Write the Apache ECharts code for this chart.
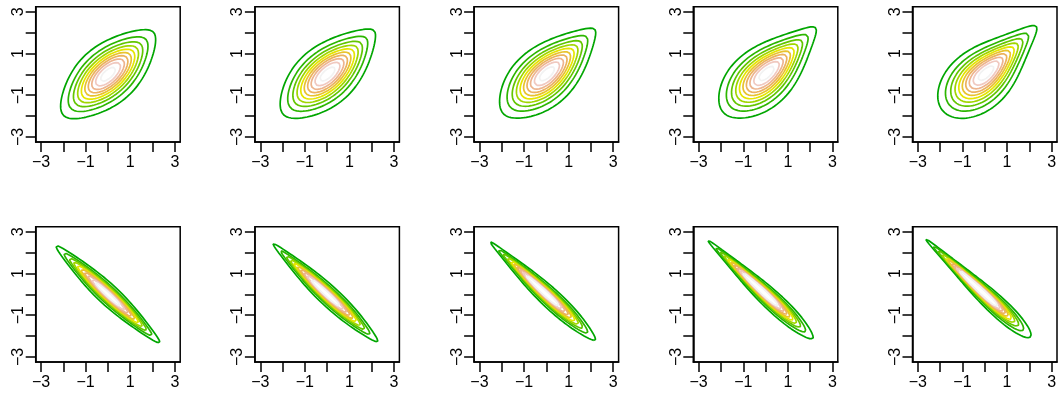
<!DOCTYPE html>
<html>
<head>
<meta charset="utf-8">
<script src="https://cdn.jsdelivr.net/npm/echarts@6/dist/echarts.min.js"></script>
<style>
  html, body { margin: 0; padding: 0; background: #ffffff; }
  #chart { width: 1064px; height: 394px; }
</style>
</head>
<body>
<div id="chart"></div>
<script>
// ---- axis ticks and labels ----
const tickValues = [-3, -2, -1, 0, 1, 2, 3];
const labelValues = [-3, -1, 1, 3];
const axisRange = [-3.24, 3.24];

// ---- model of each panel: N(0,1) margins, a mixture of the Student t
//      copula (rho, nu) and the Gumbel copula (theta); weight = Gumbel share ----
const topRho = [0.6, 0.6, 0.6, 0.6, 0.6];
const topNu = [8, 8, 8, 8, 8];
const topTheta = [1.7, 1.7, 1.7, 1.7, 1.7];
const topWeight = [0.1, 0.3, 0.5, 0.75, 1.0];
const bottomRho = [-0.95, -0.95, -0.95, -0.95, -0.95];
const bottomNu = [4, 4, 4, 4, 4];
const bottomTheta = [6.0, 6.0, 6.0, 6.0, 6.0];
const bottomWeight = [0.0, 0.25, 0.5, 0.75, 1.0];

// ---- contour levels of the joint density ----
const topLevels = [0.02, 0.04, 0.06, 0.08, 0.10, 0.12, 0.14, 0.16, 0.18, 0.20];
const bottomLevels = [0.05, 0.10, 0.15, 0.20, 0.25, 0.30, 0.35, 0.40, 0.45, 0.50];

// ---------------------------------------------------------------
function erfc(x) {
  const z = Math.abs(x), t = 1 / (1 + 0.5 * z);
  const r = t * Math.exp(-z * z - 1.26551223 + t * (1.00002368 + t * (0.37409196 + t * (0.09678418 +
    t * (-0.18628806 + t * (0.27886807 + t * (-1.13520398 + t * (1.48851587 +
    t * (-0.82215223 + t * 0.17087277)))))))));
  return x >= 0 ? r : 2 - r;
}
const lowerTail = x => 0.5 * erfc(-x / Math.SQRT2); // Phi(x)
// -ln(Phi(x))
function negLogPhi(x) {
  if (x >= 0) return -Math.log1p(-lowerTail(-x));
  return -Math.log(lowerTail(x));
}
function dnorm(x) { return Math.exp(-0.5 * x * x) / Math.sqrt(2 * Math.PI); }

function gammaln(x) {
  const c = [76.18009172947146, -86.50532032941677, 24.01409824083091,
    -1.231739572450155, 0.1208650973866179e-2, -0.5395239384953e-5];
  let y = x, tmp = x + 5.5;
  tmp -= (x + 0.5) * Math.log(tmp);
  let ser = 1.000000000190015;
  for (let j = 0; j < 6; j++) ser += c[j] / ++y;
  return -tmp + Math.log(2.5066282746310005 * ser / x);
}
function betacf(a, b, x) {
  const FPMIN = 1e-300;
  let qab = a + b, qap = a + 1, qam = a - 1, c = 1, d = 1 - qab * x / qap;
  if (Math.abs(d) < FPMIN) d = FPMIN;
  d = 1 / d;
  let h = d;
  for (let m = 1; m <= 300; m++) {
    const m2 = 2 * m;
    let aa = m * (b - m) * x / ((qam + m2) * (a + m2));
    d = 1 + aa * d; if (Math.abs(d) < FPMIN) d = FPMIN;
    c = 1 + aa / c; if (Math.abs(c) < FPMIN) c = FPMIN;
    d = 1 / d; h *= d * c;
    aa = -(a + m) * (qab + m) * x / ((a + m2) * (qap + m2));
    d = 1 + aa * d; if (Math.abs(d) < FPMIN) d = FPMIN;
    c = 1 + aa / c; if (Math.abs(c) < FPMIN) c = FPMIN;
    d = 1 / d;
    const del = d * c;
    h *= del;
    if (Math.abs(del - 1) < 1e-14) break;
  }
  return h;
}
function ibeta(x, a, b) {
  if (x <= 0) return 0;
  if (x >= 1) return 1;
  const bt = Math.exp(gammaln(a + b) - gammaln(a) - gammaln(b) + a * Math.log(x) + b * Math.log(1 - x));
  if (x < (a + 1) / (a + b + 2)) return bt * betacf(a, b, x) / a;
  return 1 - bt * betacf(b, a, 1 - x) / b;
}
// Student t: lower tail for t <= 0 and its inverse
function ptNeg(t, nu) { return 0.5 * ibeta(nu / (nu + t * t), nu / 2, 0.5); }
function qtNeg(p, nu) {
  let lo = -500, hi = 0;
  for (let k = 0; k < 80; k++) {
    const mid = 0.5 * (lo + hi);
    if (ptNeg(mid, nu) < p) lo = mid; else hi = mid;
  }
  return 0.5 * (lo + hi);
}
// t quantile of Phi(x)
function tScore(x, nu) {
  return x <= 0 ? qtNeg(lowerTail(x), nu) : -qtNeg(lowerTail(-x), nu);
}

// log Gumbel copula density written in t = -ln(u), s = -ln(v)
function logGumbel(t1, t2, theta) {
  const l1 = Math.log(t1), l2 = Math.log(t2), m = Math.max(l1, l2);
  const lnA = m + Math.log(Math.exp(theta * (l1 - m)) + Math.exp(theta * (l2 - m))) / theta;
  const A = Math.exp(lnA);
  return t1 + t2 - A + (theta - 1) * (l1 + l2) + (1 - 2 * theta) * lnA + Math.log(A + theta - 1);
}
// log Student t copula density at t scores q1, q2
function logTCop(q1, q2, rho, nu) {
  const d = 1 - rho * rho;
  const f2 = gammaln((nu + 2) / 2) - gammaln(nu / 2) - Math.log(nu * Math.PI) - 0.5 * Math.log(d)
    - (nu + 2) / 2 * Math.log(1 + (q1 * q1 - 2 * rho * q1 * q2 + q2 * q2) / (nu * d));
  const k1 = gammaln((nu + 1) / 2) - gammaln(nu / 2) - 0.5 * Math.log(nu * Math.PI);
  const f1a = k1 - (nu + 1) / 2 * Math.log(1 + q1 * q1 / nu);
  const f1b = k1 - (nu + 1) / 2 * Math.log(1 + q2 * q2 / nu);
  return f2 - f1a - f1b;
}

const N = 181;
const xs = [];
for (let i = 0; i < N; i++) xs.push(axisRange[0] + (axisRange[1] - axisRange[0]) * i / (N - 1));
const tPos = xs.map(negLogPhi);          // -ln Phi(x)
const tNeg = xs.map(x => negLogPhi(-x)); // -ln Phi(-x)
const phi = xs.map(dnorm);
const tScoreCache = {};
function scores(nu) {
  if (!tScoreCache[nu]) tScoreCache[nu] = xs.map(x => tScore(x, nu));
  return tScoreCache[nu];
}

function densityGrid(rho, nu, theta, w, row) {
  const q = scores(nu), z = [];
  for (let j = 0; j < N; j++) {
    const r = [];
    for (let i = 0; i < N; i++) {
      // upper row: Gumbel tail toward (+,+); lower row: rotated toward (-,+)
      const lg = row === 0 ? logGumbel(tPos[i], tPos[j], theta) : logGumbel(tNeg[i], tPos[j], theta);
      const lt = logTCop(q[i], q[j], rho, nu);
      r.push((w * Math.exp(lg) + (1 - w) * Math.exp(lt)) * phi[i] * phi[j]);
    }
    z.push(r);
  }
  return z;
}

// marching squares, chained into polylines
function contourLines(z, level) {
  const pts = new Map(), adj = new Map();
  function ep(key, x1, y1, z1, x2, y2, z2) {
    if (!pts.has(key)) {
      const t = (level - z1) / (z2 - z1);
      pts.set(key, [x1 + t * (x2 - x1), y1 + t * (y2 - y1)]);
    }
    return key;
  }
  function link(a, b) {
    if (!adj.has(a)) adj.set(a, []);
    if (!adj.has(b)) adj.set(b, []);
    adj.get(a).push(b); adj.get(b).push(a);
  }
  for (let j = 0; j < N - 1; j++) {
    for (let i = 0; i < N - 1; i++) {
      const z00 = z[j][i], z10 = z[j][i + 1], z11 = z[j + 1][i + 1], z01 = z[j + 1][i];
      const e = [];
      if ((z00 >= level) !== (z10 >= level)) e.push(ep('h' + i + '_' + j, xs[i], xs[j], z00, xs[i + 1], xs[j], z10));
      if ((z10 >= level) !== (z11 >= level)) e.push(ep('v' + (i + 1) + '_' + j, xs[i + 1], xs[j], z10, xs[i + 1], xs[j + 1], z11));
      if ((z01 >= level) !== (z11 >= level)) e.push(ep('h' + i + '_' + (j + 1), xs[i], xs[j + 1], z01, xs[i + 1], xs[j + 1], z11));
      if ((z00 >= level) !== (z01 >= level)) e.push(ep('v' + i + '_' + j, xs[i], xs[j], z00, xs[i], xs[j + 1], z01));
      if (e.length === 2) link(e[0], e[1]);
      else if (e.length === 4) {
        const zc = (z00 + z10 + z11 + z01) / 4;
        if ((zc >= level) === (z00 >= level)) { link(e[0], e[1]); link(e[2], e[3]); }
        else { link(e[0], e[3]); link(e[1], e[2]); }
      }
    }
  }
  const visited = new Set(), lines = [];
  function walk(start) {
    const line = [pts.get(start)];
    visited.add(start);
    let cur = start;
    for (;;) {
      const nb = adj.get(cur).filter(k => !visited.has(k));
      if (!nb.length) {
        if (adj.get(cur).includes(start) && line.length > 2) line.push(pts.get(start));
        break;
      }
      cur = nb[0];
      visited.add(cur);
      line.push(pts.get(cur));
    }
    return line;
  }
  for (const [k, v] of adj) if (v.length === 1 && !visited.has(k)) lines.push(walk(k));
  for (const k of adj.keys()) if (!visited.has(k)) lines.push(walk(k));
  return lines;
}

// R-style terrain palette
function hsv(h, s, v) {
  const i = Math.floor(h * 6), f = h * 6 - i;
  const p = v * (1 - s), q = v * (1 - f * s), t = v * (1 - (1 - f) * s);
  let r, g, b;
  switch (((i % 6) + 6) % 6) {
    case 0: r = v; g = t; b = p; break;
    case 1: r = q; g = v; b = p; break;
    case 2: r = p; g = v; b = t; break;
    case 3: r = p; g = q; b = v; break;
    case 4: r = t; g = p; b = v; break;
    default: r = v; g = p; b = q;
  }
  const hx = c => Math.round(c * 255).toString(16).padStart(2, '0');
  return '#' + hx(r) + hx(g) + hx(b);
}
function seq(a, b, len) {
  if (len === 1) return [a];
  return Array.from({ length: len }, (_, i) => a + (b - a) * i / (len - 1));
}
function terrainColors(n) {
  const k = Math.floor(n / 2), out = [];
  const h1 = seq(4 / 12, 2 / 12, k), v1 = seq(0.65, 0.9, k);
  for (let i = 0; i < k; i++) out.push(hsv(h1[i], 1, v1[i]));
  const m = n - k + 1;
  const h2 = seq(2 / 12, 0, m), s2 = seq(1, 0, m), v2 = seq(0.9, 0.95, m);
  for (let i = 1; i < m; i++) out.push(hsv(h2[i], s2[i], v2[i]));
  return out;
}

// ---------------------------------------------------------------
const font = "'Liberation Sans', Arial, Helvetica, sans-serif";
const fmt = v => String(v).replace('-', '\u2212');
const grids = [], xAxes = [], yAxes = [], series = [];

const panelLeft0 = 35.7, panelStep = 219.2, panelW = 144.5, panelH = 135.3;
const rowTop = [6.7, 226.7];

for (let row = 0; row < 2; row++) {
  for (let col = 0; col < 5; col++) {
    const p = row * 5 + col;
    grids.push({
      left: panelLeft0 + panelStep * col, top: rowTop[row], width: panelW, height: panelH,
      show: true, borderColor: '#000', borderWidth: 1.5, backgroundColor: 'transparent',
      containLabel: false, outerBoundsMode: 'none'
    });
    const axisCommon = {
      type: 'value', gridIndex: p, min: axisRange[0], max: axisRange[1],
      splitLine: { show: false },
      axisLine: { show: true, onZero: false, lineStyle: { color: '#000', width: 1.5 } },
      axisTick: { show: true, length: 10, customValues: tickValues, lineStyle: { color: '#000', width: 1.5 } },
      axisLabel: {
        customValues: labelValues, formatter: fmt, color: '#000',
        fontFamily: font, fontSize: 16, margin: 13
      }
    };
    xAxes.push(Object.assign({}, axisCommon, { position: 'bottom' }));
    yAxes.push(Object.assign({}, axisCommon, {
      position: 'left',
      axisLabel: Object.assign({}, axisCommon.axisLabel, { rotate: 90, margin: 9 })
    }));

    const top = row === 0;
    const z = densityGrid(
      top ? topRho[col] : bottomRho[col],
      top ? topNu[col] : bottomNu[col],
      top ? topTheta[col] : bottomTheta[col],
      top ? topWeight[col] : bottomWeight[col],
      row);
    const levels = top ? topLevels : bottomLevels;
    const colors = terrainColors(levels.length);
    levels.forEach((lv, li) => {
      contourLines(z, lv).forEach(line => {
        series.push({
          type: 'line', xAxisIndex: p, yAxisIndex: p, data: line,
          symbol: 'none', showSymbol: false, silent: true, animation: false,
          lineStyle: { color: colors[li], width: 1.7 }, z: 3
        });
      });
    });
  }
}

const chart = echarts.init(document.getElementById('chart'), null, { renderer: 'canvas' });
chart.setOption({
  backgroundColor: '#ffffff',
  animation: false,
  grid: grids, xAxis: xAxes, yAxis: yAxes, series: series
});
</script>
</body>
</html>
